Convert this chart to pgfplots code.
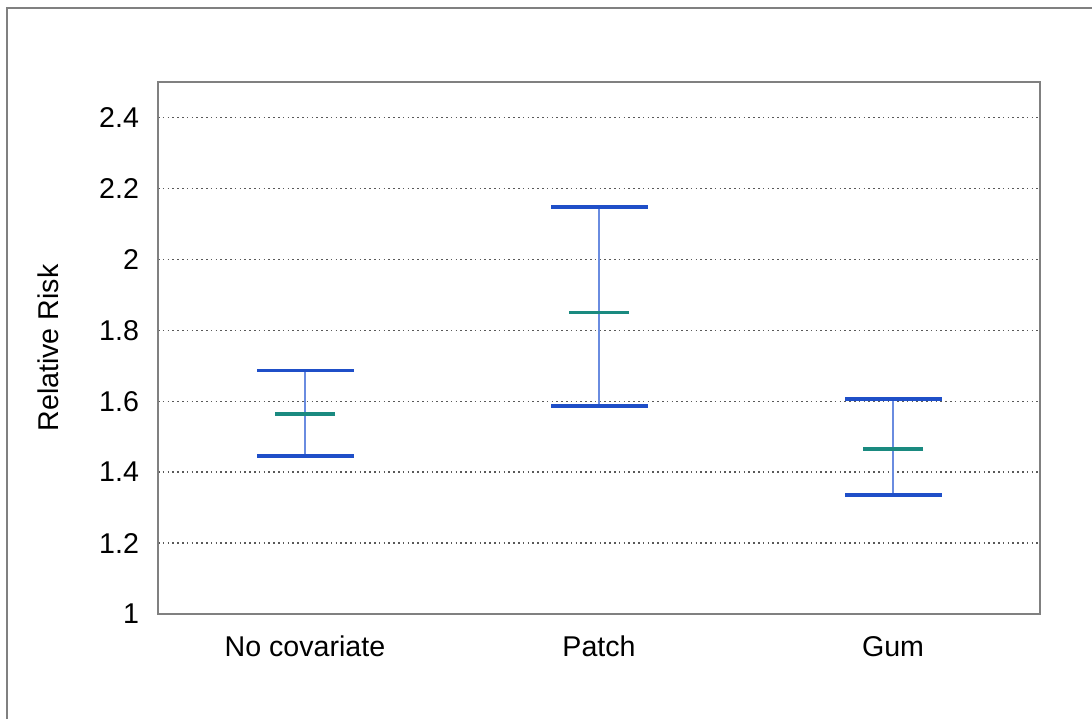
\documentclass[border=0pt]{standalone}
\usepackage{pgfplots}
\pgfplotsset{compat=1.18}
\usepackage{fontspec}
\setmainfont{Liberation Sans}
\definecolor{capblue}{HTML}{1F4FC8}
\definecolor{linblue}{HTML}{6A8CE0}
\definecolor{midteal}{HTML}{1A8A80}
\definecolor{framegray}{HTML}{808080}
\begin{document}
\begin{tikzpicture}
\path[use as bounding box] (0pt,0pt) rectangle (546pt,359.5pt);
\draw[framegray, line width=1pt] (3.5pt,0pt) -- (3.5pt,355.5pt) -- (546pt,355.5pt);
\begin{axis}[
  at={(79pt,52.5pt)}, anchor=south west,
  scale only axis, width=441pt, height=266pt,
  xmin=-0.5, xmax=2.5, ymin=1, ymax=2.5,
  xtick={0,1,2}, xticklabels={No covariate,Patch,Gum},
  ytick={1,1.2,1.4,1.6,1.8,2,2.2,2.4},
  major tick length=0pt,
  ymajorgrids, major grid style={dash pattern=on 0.8pt off 1.6pt, black!65, line width=0.7pt},
  axis line style={framegray, line width=1pt},
  /pgf/number format/assume math mode=true,
  tick label style={font=\fontsize{14.3}{17}\selectfont},
  xticklabel style={yshift=-7.5pt},
  yticklabel style={xshift=-6pt},
  ylabel={Relative Risk},
  ylabel style={font=\fontsize{14.3}{17}\selectfont, xshift=0pt, yshift=13.5pt},
  clip=false,
]
% vertical lines
\addplot[linblue, line width=0.8pt, forget plot] coordinates {(0,1.446) (0,1.686)};
\addplot[linblue, line width=0.8pt, forget plot] coordinates {(1,1.587) (1,2.148)};
\addplot[linblue, line width=0.8pt, forget plot] coordinates {(2,1.336) (2,1.607)};
% caps (high and low)
\addplot[only marks, mark=-, mark size=24.25pt, mark options={capblue, line width=1.8pt}] coordinates {
  (0,1.686) (1,2.148) (2,1.607)
};
\addplot[only marks, mark=-, mark size=24.25pt, mark options={capblue, line width=1.8pt}] coordinates {
  (0,1.446) (1,1.587) (2,1.336)
};
% mid
\addplot[only marks, mark=-, mark size=15pt, mark options={midteal, line width=1.8pt}] coordinates {
  (0,1.564) (1,1.850) (2,1.466)
};
\end{axis}
\end{tikzpicture}
\end{document}
